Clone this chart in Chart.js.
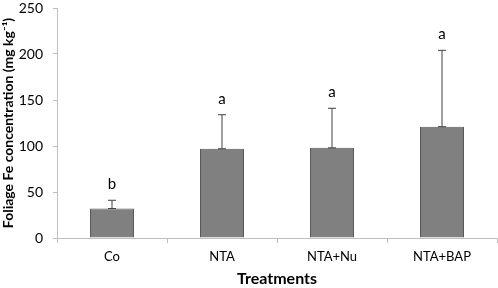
<!DOCTYPE html>
<html>
<head>
<meta charset="utf-8">
<script src="https://cdn.jsdelivr.net/npm/chart.js@4"></script>
<style>
  html, body { margin: 0; padding: 0; background: #fff; }
  #wrap { width: 498px; height: 288px; }
</style>
</head>
<body>
<div id="wrap"><canvas id="feChart" width="498" height="288"></canvas></div>
<script>
// data
const treatments = ["Co", "NTA", "NTA+Nu", "NTA+BAP"];
const feMeans = [32, 97, 98, 121];
const feErrors = [9, 37, 43, 83];
const sigLetters = ["b", "a", "a", "a"];
const yTicks = [0, 50, 100, 150, 200, 250];

const FONT = "Lato, 'Open Sans', sans-serif";

// draws the upward error bars and the letters above them
const errorBarPlugin = {
  id: "errorBars",
  afterDatasetsDraw(chart) {
    const ctx = chart.ctx;
    const y = chart.scales.y;
    const meta = chart.getDatasetMeta(0);
    ctx.save();
    meta.data.forEach((bar, i) => {
      const top = y.getPixelForValue(feMeans[i]);
      const errTop = y.getPixelForValue(feMeans[i] + feErrors[i]);
      ctx.strokeStyle = "#404040";
      ctx.lineWidth = 1;
      ctx.beginPath();
      ctx.moveTo(bar.x, top);
      ctx.lineTo(bar.x, errTop);
      ctx.moveTo(bar.x - 4, errTop);
      ctx.lineTo(bar.x + 4, errTop);
      ctx.moveTo(bar.x - 4, top);
      ctx.lineTo(bar.x + 4, top);
      ctx.stroke();
      ctx.fillStyle = "#000";
      ctx.font = "15px " + FONT;
      ctx.textAlign = "center";
      ctx.textBaseline = "middle";
      ctx.fillText(sigLetters[i], bar.x, errTop - 16);
    });
    ctx.restore();
  }
};

new Chart(document.getElementById("feChart"), {
  type: "bar",
  data: {
    labels: treatments,
    datasets: [{
      data: feMeans,
      backgroundColor: "#808080",
      borderColor: "#595959",
      borderWidth: 1,
      categoryPercentage: 1,
      barPercentage: 0.4
    }]
  },
  options: {
    responsive: false,
    animation: false,
    layout: { padding: { left: 0, right: 1, top: 8, bottom: 0 } },
    plugins: { legend: { display: false }, tooltip: { enabled: false } },
    scales: {
      x: {
        offset: true,
        grid: { offset: true, drawOnChartArea: false, drawTicks: true, tickLength: 5, color: "#bfbfbf" },
        border: { color: "#bfbfbf" },
        ticks: { color: "#000", font: { family: FONT, size: 13 }, padding: 6 },
        title: { display: true, text: "Treatments", color: "#000", font: { family: FONT, size: 16, weight: "bold" }, padding: { top: 3, bottom: 0 } },
        afterFit: s => { s.height = 50; }
      },
      y: {
        min: 0,
        max: 250,
        afterBuildTicks: s => { s.ticks = yTicks.map(v => ({ value: v })); },
        grid: { drawOnChartArea: false, drawTicks: true, tickLength: 4, color: "#bfbfbf" },
        border: { color: "#bfbfbf" },
        ticks: { color: "#000", font: { family: FONT, size: 14 }, padding: 10 },
        title: { display: true, text: "Foliage Fe concentration (mg kg⁻¹)", color: "#000", font: { family: FONT, size: 14, weight: "bold" }, padding: { top: 0, bottom: 0 } },
        afterFit: s => { s.width = 57; s.paddingTop = 0; s.paddingBottom = 0; }
      }
    }
  },
  plugins: [errorBarPlugin]
});
</script>
</body>
</html>
